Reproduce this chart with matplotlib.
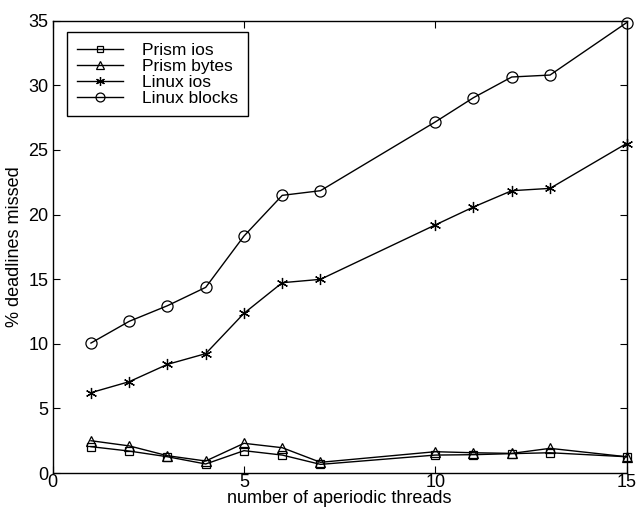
import matplotlib
matplotlib.use("Agg")
import matplotlib.pyplot as plt

plt.rcParams['font.family'] = ['Liberation Sans', 'DejaVu Sans']

threads = [1, 2, 3, 4, 5, 6, 7, 10, 11, 12, 13, 15]
prism_ios = [2.04, 1.7, 1.26, 0.7, 1.73, 1.39, 0.67, 1.39, 1.42, 1.5, 1.57, 1.26]
prism_bytes = [2.5, 2.1, 1.34, 0.93, 2.3, 1.96, 0.83, 1.65, 1.57, 1.52, 1.91, 1.26]
linux_ios = [6.22, 7.07, 8.41, 9.24, 12.36, 14.73, 14.99, 19.2, 20.59, 21.85, 22.03, 25.5]
linux_blocks = [10.06, 11.74, 12.95, 14.37, 18.34, 21.49, 21.85, 27.17, 29.05, 30.65, 30.8, 34.85]

fig = plt.figure(figsize=(6.38, 5.07), dpi=100)
ax = fig.add_axes([0.0826, 0.067, 0.8994, 0.892])

style = dict(color='black', linewidth=1.0, markerfacecolor='none',
             markeredgecolor='black', markeredgewidth=0.9, clip_on=False)
ax.plot(threads, prism_ios, marker='s', markersize=6, label='Prism ios', **style)
ax.plot(threads, prism_bytes, marker='^', markersize=7, label='Prism bytes', **style)
ax.plot(threads, linux_ios, marker=(6, 2, 0), markersize=8, label='Linux ios', **style)
ax.plot(threads, linux_blocks, marker='o', markersize=8, label='Linux blocks', **style)

ax.set_xlim(0, 15)
ax.set_ylim(0, 35)
ax.set_xticks([0, 5, 10, 15])
ax.set_yticks(range(0, 36, 5))
ax.tick_params(direction='in', top=True, right=True, length=5, width=0.8,
               labelsize=13)
ax.tick_params(axis='x', pad=1)
ax.tick_params(axis='y', pad=3)
for s in ax.spines.values():
    s.set_linewidth(1.0)

ax.set_xlabel('number of aperiodic threads', fontsize=13, labelpad=-1)
ax.set_ylabel('% deadlines missed', fontsize=13, labelpad=4)

leg = ax.legend(loc='upper left', bbox_to_anchor=(0.025, 0.975), fontsize=12.5,
                frameon=True, fancybox=False, edgecolor='black', framealpha=1,
                handlelength=2.6, handletextpad=1.1, labelspacing=0.05,
                borderpad=0.6, borderaxespad=0, markerscale=0.8)
leg.get_frame().set_linewidth(1.0)

fig.savefig('out.png', dpi=100)
